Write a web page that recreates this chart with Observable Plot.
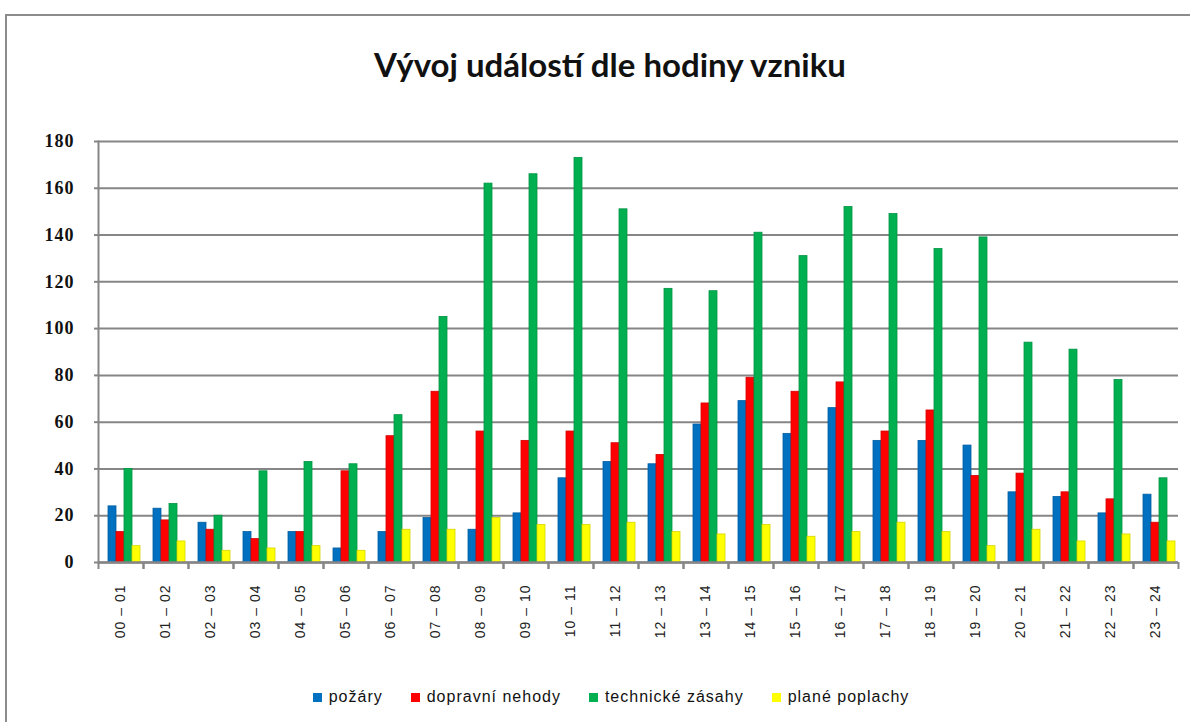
<!DOCTYPE html>
<html>
<head>
<meta charset="utf-8">
<script src="https://cdn.jsdelivr.net/npm/d3@7"></script>
<script src="https://cdn.jsdelivr.net/npm/@observablehq/plot@0.6"></script>
<style>
  html, body { margin: 0; padding: 0; background: #fff; overflow: hidden; }
  #wrap { position: relative; width: 1190px; height: 722px; }
  #border { position: absolute; left: 5px; top: 14px; width: 1400px; height: 900px; border: 2px solid #8c8c8c; box-sizing: border-box; }
  #title { position: absolute; left: 0; top: 44px; width: 1220px; text-align: center; font-family: Lato, "Open Sans", sans-serif; font-weight: 700; font-size: 33px; color: #111; }
  #chart { position: absolute; left: 0; top: 100px; }
  #chart svg g[aria-label="fx-axis tick label"] text { letter-spacing: 1px; }
  #chart svg g[aria-label="y-axis tick label"] text { letter-spacing: 1px; }
  #legend { position: absolute; left: 0; top: 688px; width: 1222px; display: flex; justify-content: center; gap: 28px; font-family: "Liberation Sans", Arial, sans-serif; font-size: 16px; letter-spacing: 1px; color: #111; }
  .item { display: flex; align-items: center; gap: 7px; }
  .sw { width: 9px; height: 9px; display: inline-block; }
</style>
</head>
<body>
<div id="wrap">
  <div id="border"></div>
  <div id="title">Vývoj událostí dle hodiny vzniku</div>
  <div id="chart"></div>
  <div id="legend"></div>
</div>
<script>
const hours = ["00 – 01","01 – 02","02 – 03","03 – 04","04 – 05","05 – 06","06 – 07","07 – 08","08 – 09","09 – 10","10 – 11","11 – 12",
               "12 – 13","13 – 14","14 – 15","15 – 16","16 – 17","17 – 18","18 – 19","19 – 20","20 – 21","21 – 22","22 – 23","23 – 24"];
const series = ["požáry", "dopravní nehody", "technické zásahy", "plané poplachy"];
const colors = ["#0070C0", "#FF0000", "#00B050", "#FFFF00"];
const pozary   = [24, 23, 17, 13, 13, 6, 13, 19, 14, 21, 36, 43, 42, 59, 69, 55, 66, 52, 52, 50, 30, 28, 21, 29];
const nehody   = [13, 18, 14, 10, 13, 39, 54, 73, 56, 52, 56, 51, 46, 68, 79, 73, 77, 56, 65, 37, 38, 30, 27, 17];
const zasahy   = [40, 25, 20, 39, 43, 42, 63, 105, 162, 166, 173, 151, 117, 116, 141, 131, 152, 149, 134, 139, 94, 91, 78, 36];
const poplachy = [7, 9, 5, 6, 7, 5, 14, 14, 19, 16, 16, 17, 13, 12, 16, 11, 13, 17, 13, 7, 14, 9, 12, 9];
const yTicks = [0, 20, 40, 60, 80, 100, 120, 140, 160, 180];

const values = [pozary, nehody, zasahy, poplachy];
const data = hours.flatMap((h, i) => series.map((s, j) => ({hour: h, series: s, value: values[j][i]})));
const edge = Object.fromEntries(series.map((s, j) => [s, d3.color(colors[j]).darker(0.5).formatHex()]));

const W = 1190, mL = 95, mR = 9;

function build(step) {
  return Plot.plot({
    width: W,
    height: 552,
    marginTop: 41,
    marginBottom: 90,
    marginLeft: mL,
    marginRight: mR,
    fx: {domain: hours, padding: 0, label: null},
    x: {domain: series, paddingInner: 0, paddingOuter: 0.63, align: 0.75, axis: null},
    y: {domain: [0, 180], ticks: yTicks, label: null},
    color: {domain: series, range: colors},
    marks: [
      Plot.gridY(yTicks, {stroke: "#868686", strokeOpacity: 1, strokeWidth: 2}),
      Plot.barY(data, {fx: "hour", x: "series", y: "value", fill: "series", stroke: d => edge[d.series], strokeWidth: 0.8, inset: 0}),
      Plot.ruleY([0], {stroke: "#868686", strokeWidth: 2.5}),
      Plot.frame({anchor: "left", facetAnchor: "left", stroke: "#868686", strokeWidth: 2}),
      Plot.axisY(yTicks, {anchor: "left", tickSize: 4, tickPadding: 20, stroke: "#868686", strokeWidth: 2,
        fontSize: 18, fontWeight: "bold", fontFamily: "Liberation Serif", fill: "#111", label: null}),
      Plot.axisFx({anchor: "bottom", tickSize: 0, tickPadding: 22, tickRotate: -90, fontSize: 14,
        fontFamily: "Liberation Sans", fill: "#222", label: null}),
      Plot.axisFx({anchor: "bottom", tickSize: 7, tickFormat: () => "", dx: -step / 2, stroke: "#868686", strokeWidth: 2, label: null}),
      Plot.axisFx([hours[hours.length - 1]], {anchor: "bottom", tickSize: 7, tickFormat: () => "", dx: step / 2, stroke: "#868686", strokeWidth: 2, label: null})
    ]
  });
}
const probe = build(0);
const step = probe.scale("fx").step;
const chart = build(step);
document.getElementById("chart").appendChild(chart);

const legend = document.getElementById("legend");
series.forEach((s, j) => {
  const it = document.createElement("div");
  it.className = "item";
  const sw = document.createElement("span");
  sw.className = "sw";
  sw.style.background = colors[j];
  const t = document.createElement("span");
  t.textContent = s;
  it.appendChild(sw);
  it.appendChild(t);
  legend.appendChild(it);
});
</script>
</body>
</html>
